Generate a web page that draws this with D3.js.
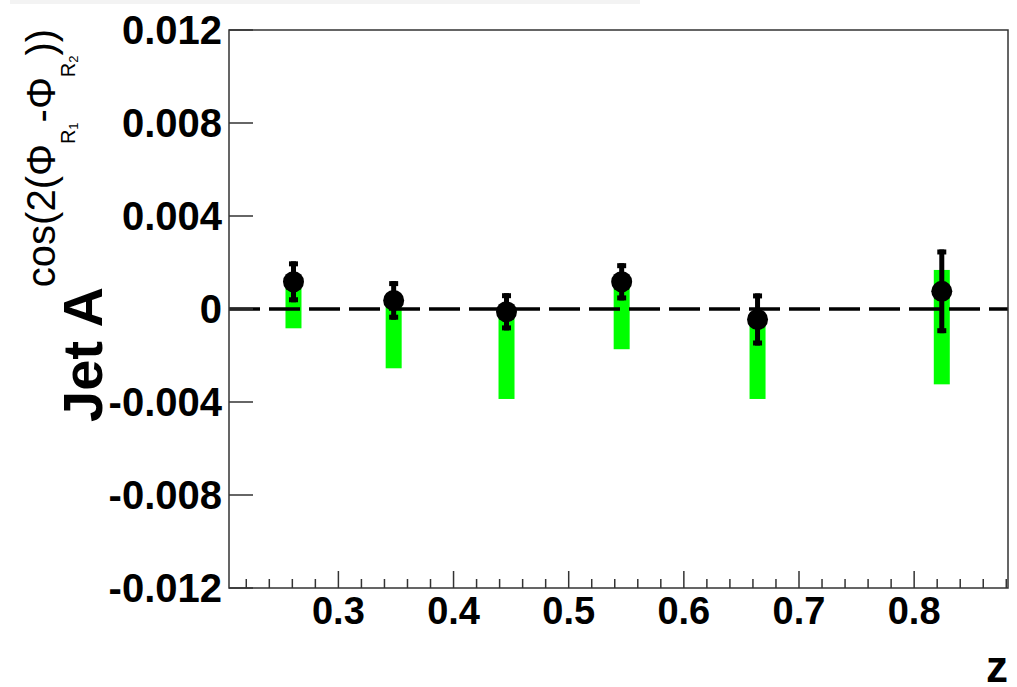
<!DOCTYPE html>
<html>
<head>
<meta charset="utf-8">
<script src="https://cdn.jsdelivr.net/npm/d3@7"></script>
<style>
  body { margin: 0; background: white; }
  svg { display: block; font-family: "Liberation Sans", Arial, sans-serif; }
</style>
</head>
<body>
<div id="chart"></div>
<script>
// data
var zBins   = [0.261, 0.348, 0.446, 0.546, 0.664, 0.824];
var asym    = [0.00117, 0.00037, -0.00012, 0.00117, -0.00045, 0.00076];
var statErr = [0.00088, 0.00083, 0.00080, 0.00080, 0.00112, 0.00180];
var sysLow  = [-0.00083, -0.00255, -0.00387, -0.00173, -0.00387, -0.00324];
var sysHigh = [0.00110, 0.00030, -0.00010, 0.00110, -0.00040, 0.00168];
var yTicks  = [0.012, 0.008, 0.004, 0, -0.004, -0.008, -0.012];
var yTickLabels = ["0.012", "0.008", "0.004", "0", "-0.004", "-0.008", "-0.012"];
var xMajor  = [0.3, 0.4, 0.5, 0.6, 0.7, 0.8];
var xMinor  = d3.range(0.22, 0.8801, 0.02);

var W = 1017, H = 687;
var margin = {left: 229, right: 1008, top: 30, bottom: 588};

var svg = d3.select("#chart").append("svg")
    .attr("width", W)
    .attr("height", H);

// faint band at the very top of the picture
svg.append("rect")
    .attr("x", 10).attr("y", 0).attr("width", 630).attr("height", 4)
    .attr("fill", "#f3f3f3");

var x = d3.scaleLinear().domain([0.205, 0.8815]).range([margin.left, margin.right]);
var y = d3.scaleLinear().domain([-0.012, 0.012]).range([margin.bottom, margin.top]);

var data = zBins.map(function(z, i) {
  return {z: z, v: asym[i], e: statErr[i], lo: sysLow[i], hi: sysHigh[i]};
});

// systematic boxes
svg.append("g").selectAll("rect")
  .data(data).enter().append("rect")
    .attr("x", function(d) { return x(d.z) - 8; })
    .attr("width", 16)
    .attr("y", function(d) { return y(d.hi); })
    .attr("height", function(d) { return y(d.lo) - y(d.hi); })
    .attr("fill", "#00ff00");

// zero line
svg.append("line")
    .attr("x1", margin.left).attr("x2", margin.right)
    .attr("y1", y(0)).attr("y2", y(0))
    .attr("stroke", "black")
    .attr("stroke-width", 3.5)
    .attr("stroke-dasharray", "31,9");

// frame
svg.append("rect")
    .attr("x", margin.left).attr("y", margin.top)
    .attr("width", margin.right - margin.left).attr("height", margin.bottom - margin.top)
    .attr("fill", "none")
    .attr("stroke", "#333")
    .attr("stroke-width", 1.5);

// y axis ticks and labels
var yAxis = svg.append("g");
yAxis.selectAll("line")
  .data(yTicks).enter().append("line")
    .attr("x1", margin.left).attr("x2", margin.left + 24)
    .attr("y1", function(d) { return y(d); })
    .attr("y2", function(d) { return y(d); })
    .attr("stroke", "#333").attr("stroke-width", 1.5);
yAxis.selectAll("text")
  .data(yTicks).enter().append("text")
    .attr("x", margin.left - 7)
    .attr("y", function(d) { return y(d); })
    .attr("dy", "0.36em")
    .attr("text-anchor", "end")
    .style("font-size", "40px")
    .style("font-weight", "bold")
    .text(function(d, i) { return yTickLabels[i]; });

// x axis ticks and labels
var xAxis = svg.append("g");
xAxis.selectAll("line.minor")
  .data(xMinor).enter().append("line")
    .attr("class", "minor")
    .attr("x1", function(d) { return x(d); })
    .attr("x2", function(d) { return x(d); })
    .attr("y1", margin.bottom).attr("y2", function(d) {
      var isMajor = xMajor.some(function(m) { return Math.abs(m - d) < 1e-6; });
      return isMajor ? margin.bottom - 17 : margin.bottom - 9;
    })
    .attr("stroke", "#333").attr("stroke-width", 1.5);
xAxis.selectAll("text")
  .data(xMajor).enter().append("text")
    .attr("x", function(d) { return x(d); })
    .attr("y", 624)
    .attr("text-anchor", "middle")
    .style("font-size", "38px")
    .style("font-weight", "bold")
    .text(function(d) { return d3.format(".1f")(d); });

// x title
svg.append("text")
    .attr("x", margin.right).attr("y", 682)
    .attr("text-anchor", "end")
    .style("font-size", "44px")
    .style("font-weight", "bold")
    .text("z");

// y title
var yt = svg.append("text")
    .attr("transform", "translate(102,422) rotate(-90)")
    .attr("text-anchor", "start");
yt.append("tspan").style("font-size", "56px").style("font-weight", "bold").text("Jet A");
yt.append("tspan").attr("dy", -47).style("font-size", "40px").text("cos(2(\u03A6");
yt.append("tspan").attr("dy", 20).style("font-size", "20px").text("R");
yt.append("tspan").attr("dy", 3).style("font-size", "13px").text("1");
yt.append("tspan").attr("dy", -23).style("font-size", "40px").text("-\u03A6");
yt.append("tspan").attr("dy", 20).style("font-size", "20px").text("R");
yt.append("tspan").attr("dy", 3).style("font-size", "13px").text("2");
yt.append("tspan").attr("dy", -23).style("font-size", "40px").text("))");

// statistical error bars
var bars = svg.append("g");
bars.selectAll("line")
  .data(data).enter().append("line")
    .attr("x1", function(d) { return x(d.z); })
    .attr("x2", function(d) { return x(d.z); })
    .attr("y1", function(d) { return y(d.v + d.e); })
    .attr("y2", function(d) { return y(d.v - d.e); })
    .attr("stroke", "black").attr("stroke-width", 5);
bars.selectAll("rect.top")
  .data(data).enter().append("rect")
    .attr("class", "top")
    .attr("x", function(d) { return x(d.z) - 4.5; })
    .attr("y", function(d) { return y(d.v + d.e); })
    .attr("width", 9).attr("height", 5)
    .attr("fill", "black");
bars.selectAll("rect.bot")
  .data(data).enter().append("rect")
    .attr("class", "bot")
    .attr("x", function(d) { return x(d.z) - 4.5; })
    .attr("y", function(d) { return y(d.v - d.e) - 5; })
    .attr("width", 9).attr("height", 5)
    .attr("fill", "black");

// markers
svg.append("g").selectAll("circle")
  .data(data).enter().append("circle")
    .attr("cx", function(d) { return x(d.z); })
    .attr("cy", function(d) { return y(d.v); })
    .attr("r", 10.5)
    .attr("fill", "black");
</script>
</body>
</html>
